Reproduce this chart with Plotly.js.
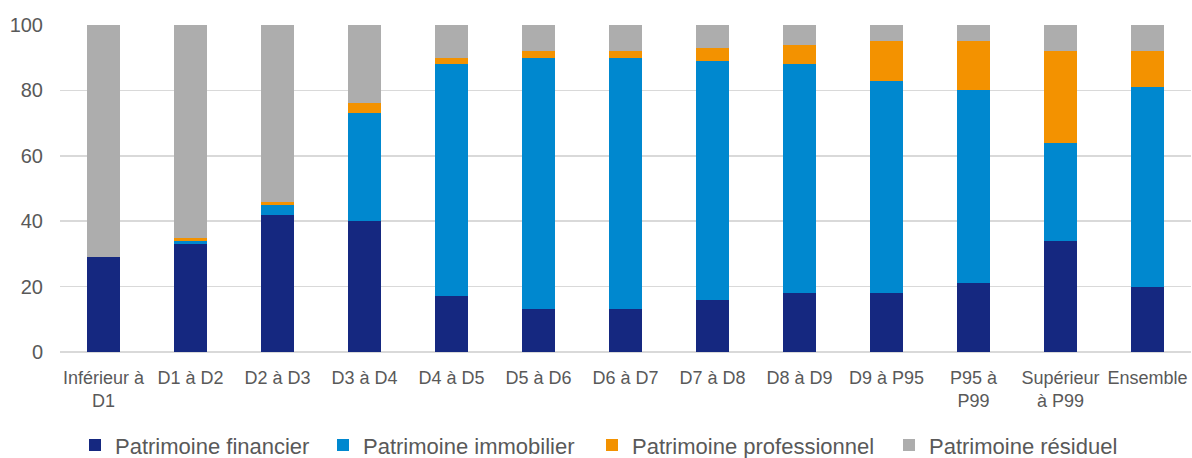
<!DOCTYPE html>
<html>
<head>
<meta charset="utf-8">
<script src="https://cdn.plot.ly/plotly-3.0.1.min.js"></script>
<style>
  html, body { margin: 0; padding: 0; background: #ffffff; }
  #chart { width: 1192px; height: 458px; }
</style>
</head>
<body>
<div id="chart"></div>
<script>
// Wealth composition by wealth bracket (% of total)
const categories = [
  "Inférieur à<br>D1", "D1 à D2", "D2 à D3", "D3 à D4", "D4 à D5", "D5 à D6",
  "D6 à D7", "D7 à D8", "D8 à D9", "D9 à P95", "P95 à<br>P99", "Supérieur<br>à P99", "Ensemble"
];
const financier     = [29, 33,   42, 40, 17, 13, 13, 16, 18, 18, 21, 34, 20];
const immobilier    = [0,  0.8,  3,  33, 71, 77, 77, 73, 70, 65, 59, 30, 61];
const professionnel = [0,  1.2,  1,  3,  2,  2,  2,  4,  6,  12, 15, 28, 11];
const residuel      = [71, 65,   54, 24, 10, 8,  8,  7,  6,  5,  5,  8,  8];

const seriesNames = ["Patrimoine financier", "Patrimoine immobilier", "Patrimoine professionnel", "Patrimoine résiduel"];
const seriesValues = [financier, immobilier, professionnel, residuel];
const seriesColors = ["#152880", "#0088CF", "#F39200", "#ADADAD"];
// width reserved for each legend entry's label (px)
const legendWidths = [203, 224, 252, 200];

const traces = seriesValues.map((vals, i) => ({
  type: "bar",
  name: seriesNames[i],
  x: categories,
  y: vals,
  legendwidth: legendWidths[i],
  marker: { color: seriesColors[i], line: { width: 0 } },
  hoverinfo: "x+y+name"
}));

const layout = {
  width: 1192,
  height: 458,
  barmode: "stack",
  bargap: 0.61,
  paper_bgcolor: "#ffffff",
  plot_bgcolor: "#ffffff",
  margin: { l: 60, r: 1, t: 25, b: 106 },
  font: { family: "Liberation Sans, Arial, sans-serif", color: "#595959" },
  xaxis: {
    type: "category",
    tickfont: { size: 18, color: "#595959" },
    showgrid: false,
    showline: false,
    ticks: "",
    tickangle: 0,
    ticklabelstandoff: 13,
    automargin: false
  },
  yaxis: {
    range: [0, 100],
    dtick: 20,
    tickfont: { size: 20, color: "#595959" },
    showgrid: true,
    gridcolor: "#D9D9D9",
    gridwidth: 1.5,
    zeroline: true,
    zerolinecolor: "#D9D9D9",
    zerolinewidth: 1.5,
    showline: false,
    ticks: "",
    ticklabelstandoff: 16,
    automargin: false
  },
  showlegend: true,
  legend: {
    orientation: "h",
    xref: "container",
    yref: "container",
    x: 75 / 1192,
    xanchor: "left",
    y: 0.028,
    yanchor: "middle",
    font: { size: 22, color: "#595959" },
    traceorder: "normal",
    itemclick: false,
    itemdoubleclick: false
  }
};

Plotly.newPlot("chart", traces, layout, { displayModeBar: false, staticPlot: true });
</script>
</body>
</html>
